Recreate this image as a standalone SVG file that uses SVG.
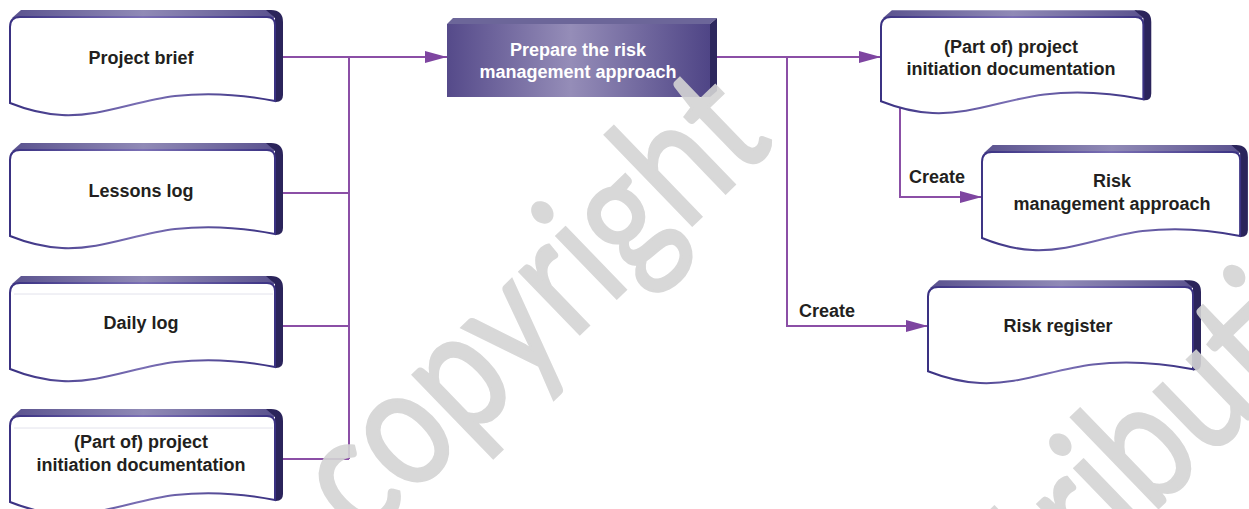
<svg xmlns="http://www.w3.org/2000/svg" xmlns:xlink="http://www.w3.org/1999/xlink" width="1249" height="509" viewBox="0 0 1249 509">
<style>
.lbl{font-family:"Liberation Sans",Arial,sans-serif;font-weight:bold;font-size:18px;fill:#231f20;text-anchor:middle}
.lbl-w{font-family:"Liberation Sans",Arial,sans-serif;font-weight:bold;font-size:18px;fill:#ffffff;text-anchor:middle}
.elbl{font-family:"Liberation Sans",Arial,sans-serif;font-weight:bold;font-size:18px;fill:#231f20}
.conn{fill:none;stroke:#8b4fa6;stroke-width:2}
.wm{font-family:Lato,"Open Sans",sans-serif;font-size:170px;fill:#d4d4d4;stroke:#d4d4d4;stroke-width:3;opacity:0.9}
.faint{stroke:#e2e2ec;stroke-width:1}
</style>
<defs>
<linearGradient id="bevelGrad" x1="0" y1="0" x2="1" y2="0">
<stop offset="0" stop-color="#5b538f"/>
<stop offset="0.5" stop-color="#908ab6"/>
<stop offset="1" stop-color="#5b538f"/>
</linearGradient>
<linearGradient id="edgeGrad" x1="0" y1="0" x2="1" y2="0">
<stop offset="0" stop-color="#3a3182"/>
<stop offset="0.5" stop-color="#7a6fb4"/>
<stop offset="1" stop-color="#3a3182"/>
</linearGradient>
<linearGradient id="procGrad" x1="0" y1="0" x2="1" y2="0">
<stop offset="0" stop-color="#554a8a"/>
<stop offset="0.47" stop-color="#958db8"/>
<stop offset="1" stop-color="#4f4586"/>
</linearGradient>
<g id="doc">
<path d="M2,1 L11,-7 L258,-7 L265,1 Z" fill="url(#bevelGrad)"/>
<path d="M256,-7 L261,-7 Q273,-7 273,5 L273,78 Q273,85 266,85 L265,85 L265,1 Z" fill="#2b245b"/>
<path d="M0,10 Q0,0 10,0 L257,0 Q265,0 265,8 L265,84 C230,77 200,75 165,79 C125,84 90,100 52,98 C30,97 15,92 0,86 Z" fill="#ffffff" stroke="url(#edgeGrad)" stroke-width="2"/>
</g>
<marker id="arrow" markerUnits="userSpaceOnUse" markerWidth="22" markerHeight="12" refX="22" refY="6" orient="auto">
<path d="M0,0 L22,6 L0,12 Z" fill="#7e45a0"/>
</marker>
</defs>

<g id="connectors">
<path class="conn" d="M283,57 H349 M283,193 H349 M283,326 H349 M283,459 H349 M349,57 V459"/>
<path class="conn" d="M349,57 H447" marker-end="url(#arrow)"/>
<path class="conn" d="M717,57 H881" marker-end="url(#arrow)"/>
<path class="conn" d="M787,57 V326 H928" marker-end="url(#arrow)"/>
<path class="conn" d="M900,106 V197 H982" marker-end="url(#arrow)"/>
<text class="elbl" x="909" y="183">Create</text>
<text class="elbl" x="799" y="317">Create</text>
</g>

<g id="node-project-brief">
<use xlink:href="#doc" transform="translate(10,17)"/>
<text class="lbl" x="141" y="64">Project brief</text>
</g>
<g id="node-lessons-log">
<use xlink:href="#doc" transform="translate(10,150)"/>
<text class="lbl" x="141" y="197">Lessons log</text>
</g>
<g id="node-daily-log">
<use xlink:href="#doc" transform="translate(10,283)"/>
<line class="faint" x1="14" y1="294" x2="273" y2="294"/>
<text class="lbl" x="141" y="329">Daily log</text>
</g>
<g id="node-pid-in">
<use xlink:href="#doc" transform="translate(10,416)"/>
<line class="faint" x1="14" y1="428" x2="273" y2="428"/>
<text class="lbl" x="141" y="448">(Part of) project</text>
<text class="lbl" x="141" y="471">initiation documentation</text>
</g>

<g id="node-prepare">
<polygon points="447,24 453,18 717,18 710,24" fill="#6c6699"/>
<polygon points="710,24 717,18 717,91 710,97" fill="#2d285e"/>
<rect x="447" y="24" width="263" height="73" fill="url(#procGrad)"/>
<text class="lbl-w" x="578" y="56">Prepare the risk</text>
<text class="lbl-w" x="578" y="78">management approach</text>
</g>

<g id="node-pid-out">
<use xlink:href="#doc" transform="translate(881,17) scale(0.99,0.98)"/>
<text class="lbl" x="1011" y="53">(Part of) project</text>
<text class="lbl" x="1011" y="75">initiation documentation</text>
</g>
<g id="node-risk-approach">
<use xlink:href="#doc" transform="translate(982,152) scale(0.974,1)"/>
<text class="lbl" x="1112" y="187">Risk</text>
<text class="lbl" x="1112" y="210">management approach</text>
</g>
<g id="node-risk-register">
<use xlink:href="#doc" transform="translate(928,287) scale(1,0.98)"/>
<text class="lbl" x="1058" y="332">Risk register</text>
</g>

<g id="watermark">
<text class="wm" transform="translate(362,544) rotate(-44) scale(0.82,1)">copyright</text>
<text class="wm" transform="translate(931,727) rotate(-44) scale(0.82,1)">distribution</text>
</g>
</svg>
